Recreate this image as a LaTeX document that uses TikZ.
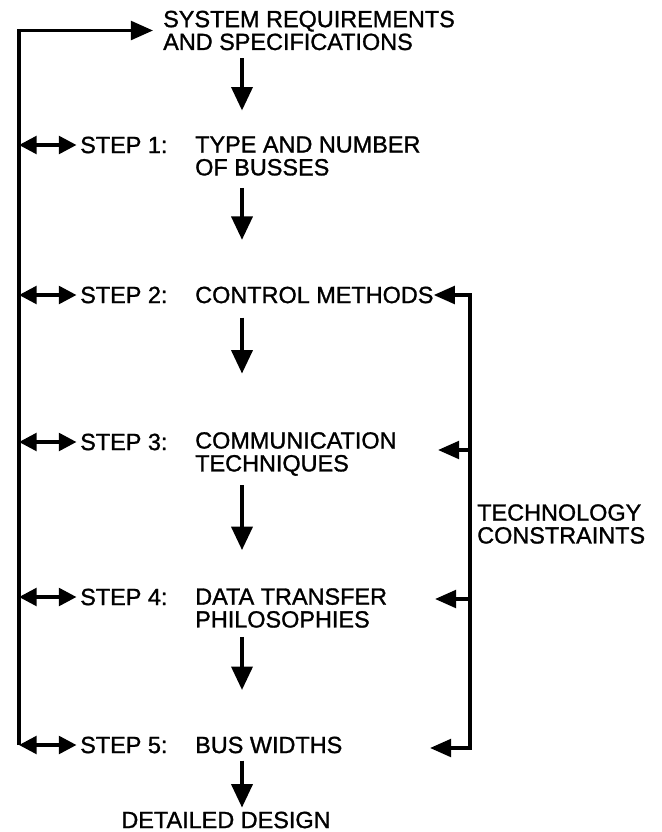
\documentclass[tikz,border=0pt]{standalone}
\usepackage{fontspec}
\setmainfont{Liberation Sans}[FakeBold=1.2]
\usetikzlibrary{arrows.meta, calc}

\begin{document}
\begin{tikzpicture}[x=0.03cm, y=-0.03cm,
  txt/.style={inner sep=0pt, font=\fontsize{20}{19.5}\selectfont, align=left},
  line/.style={line width=3pt},
  darr/.style={line width=3pt, -{Triangle[length=20pt, width=18pt]}},
  larr/.style={line width=3pt, {Triangle[length=15pt, width=15pt]}-{Triangle[length=15pt, width=15pt]}},
  rarr/.style={line width=3pt, -{Triangle[length=18pt, width=15pt]}}]

\useasboundingbox (0,0) rectangle (661,832);

% --- Main column ---
\node[txt, anchor=west] (sys) at (163,30.5) {SYSTEM REQUIREMENTS\\AND SPECIFICATIONS};

\foreach \k/\y in {1/145, 2/295, 3/442, 4/597, 5/745}
  \node[txt, anchor=west] (s\k) at (80,\y) {STEP \k:};

\node[txt, anchor=west] (d1) at (195,156) {TYPE AND NUMBER\\OF BUSSES};
\node[txt, anchor=west] (d2) at (195,295) {CONTROL METHODS};
\node[txt, anchor=west] (d3) at (195,454) {COMMUNICATION\\TECHNIQUES};
\node[txt, anchor=west] (d4) at (195,608) {DATA TRANSFER\\PHILOSOPHIES};
\node[txt, anchor=west] (d5) at (195,745) {BUS WIDTHS};

\node[txt] (dd) at (226,820) {DETAILED DESIGN};

% --- Down arrows (gap below text / length) ---
\coordinate (ax) at (242,0);
\foreach \a/\g/\l in {sys/8/52, d1/12/52, d2/14/56, d3/9/65, d4/9/53, d5/7/47}
  \draw[darr] (ax |- \a.south) ++(0,\g) -- ++(0,\l);

% --- Feedback loop on the left ---
\coordinate (lt) at (19,0 |- sys.west);
\coordinate (lb) at (19,0 |- s5.west);
\draw[line, -{Triangle[length=19pt, width=16pt]}, shorten >=8.5pt]
  (lb) -- (lt) -- (sys.west);

\foreach \k in {1,...,5}
  \draw[larr, shorten >=3pt] (19,0 |- s\k.west) -- (s\k.west);

% --- Technology constraints on the right ---
\node[txt, anchor=west] (tc) at (477,524) {TECHNOLOGY\\CONSTRAINTS};

\coordinate (rt) at (470,0 |- d2.east);
\coordinate (rb) at (470,748);
\coordinate (t5) at (430,748);
\draw[line, {Triangle[length=18pt, width=15pt]}-{Triangle[length=18pt, width=15pt]}]
  (d2.east) -- (rt) -- (rb) -- (t5);

\foreach \k/\x/\y in {3/438/450, 4/435/599} {
  \coordinate (r\k) at (470,\y);
  \coordinate (t\k) at (\x,\y);
  \draw[rarr] (r\k) -- (t\k);
}

\end{tikzpicture}
\end{document}
